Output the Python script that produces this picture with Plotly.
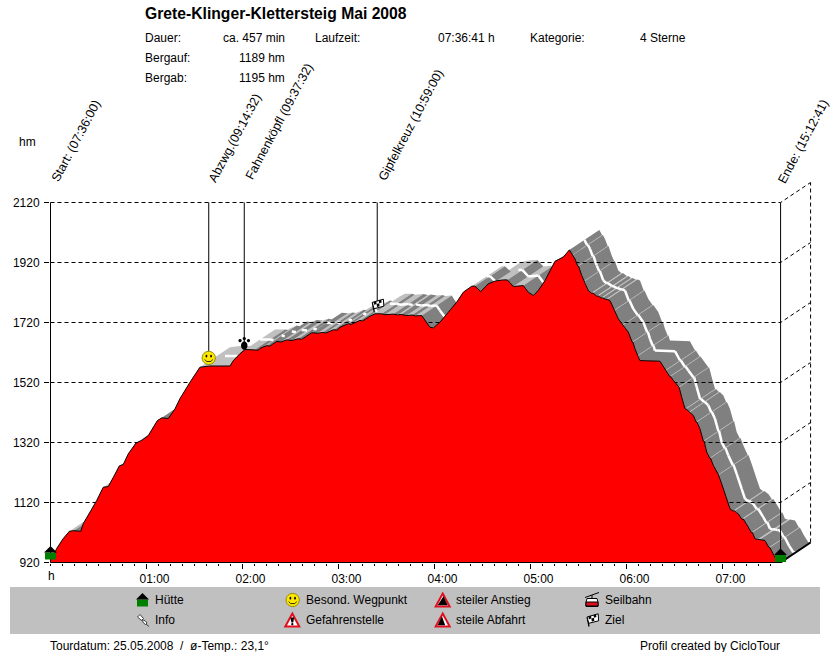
import numpy as np
import plotly.graph_objects as go

# ---------- data ----------
profile_min = [0, 1.4, 3.9, 8.0, 11.8, 14.7, 18.9, 20.5, 24.7, 28.9, 33.0, 36.1, 39.3, 43.0, 45.5, 48.6, 53.4, 57.0,
               61.1, 66.8, 69.5, 73.6, 77.8, 80.9, 87.2, 93.4, 99.7, 104, 112.2, 114.3, 118.4, 121.6, 127.8, 130,
               131, 135.1, 137, 141.4, 144, 147.6, 151, 154.9, 157, 160.1, 163.3, 167, 170, 172, 173.6, 177, 179,
               180.9, 186.1, 188, 193.4, 195, 199.7, 202.8, 207, 209, 214.3, 217, 219, 222.6, 226, 228, 232,
               234, 237.2, 239.3, 243.4, 248.6, 253.9, 258, 263.3, 265.3, 268.9, 273.6, 277.8, 283, 285.5, 289.3,
               295.5, 298.6, 301.8, 304.9, 309.1, 315.3, 320.5, 324.3, 326, 326.5, 327.8, 329.5, 330, 332, 333.5,
               334, 336.1, 338, 339, 341.4, 342.5, 344, 345, 347, 348, 349.7, 352, 352.5, 354.9, 357.5, 358, 361.1,
               363.5, 364, 365.3, 367, 367.5, 368.4, 380.9, 384.1, 384.6, 387, 387.5, 389.3, 392.4, 392.9, 394.5,
               396.6, 397.2, 399, 399.6, 401.8, 403.5, 404, 405.9, 408, 408.5, 410.1, 412, 412.5, 414.3, 417, 417.5,
               419.5, 422.6, 424.7, 426.5, 427.5, 428.8, 429.9, 432, 433, 436.1, 438, 438.7, 440.3, 442, 443.5, 445,
               446.6, 449, 449.6, 452.2, 454.9, 456.3]
profile_hm = [933, 938, 967, 1000, 1024, 1026, 1024, 1050, 1088, 1127, 1171, 1173, 1204, 1242, 1247, 1282, 1318, 1327,
              1343, 1393, 1402, 1400, 1432, 1466, 1521, 1571, 1575, 1575, 1575, 1593, 1616, 1630, 1630, 1628,
              1634, 1643, 1641, 1657, 1655, 1662, 1660, 1666, 1664, 1674, 1686, 1684, 1687, 1685, 1688, 1696, 1694,
              1704, 1716, 1714, 1727, 1725, 1741, 1749, 1749, 1746, 1748, 1745, 1747, 1743, 1745, 1742, 1743,
              1727, 1704, 1702, 1721, 1754, 1788, 1821, 1841, 1841, 1823, 1849, 1858, 1862, 1862, 1840,
              1843, 1821, 1810, 1827, 1860, 1924, 1938, 1962, 1945, 1945, 1932, 1908, 1908, 1877, 1858,
              1858, 1827, 1818, 1818, 1808, 1808, 1802, 1802, 1797, 1797, 1793, 1760, 1760, 1732, 1712, 1712, 1688,
              1655, 1655, 1632, 1610, 1610, 1593, 1591, 1560, 1560, 1540, 1540, 1527, 1504, 1504, 1471,
              1432, 1432, 1422, 1422, 1410, 1388, 1388, 1366, 1325, 1325, 1288, 1268, 1268, 1243, 1212, 1212,
              1182, 1132, 1099, 1092, 1092, 1086, 1082, 1065, 1065, 1038, 1020, 1020, 999, 997, 997, 995,
              993, 970, 970, 943, 921, 920]

wp_names = ["Start: (07:36:00)", "Abzwg.(09:14:32)", "Fahnenköpfl (09:37:32)", "Gipfelkreuz (10:59:00)", "Ende: (15:12:41)"]
wp_min = [0, 98.9, 121.1, 204.2, 456.3]
wp_hm = [920, 1602, 1653, 1777, 920]

y_ticks = [920, 1120, 1320, 1520, 1720, 1920, 2120]
x_tick_min = [0, 60, 120, 180, 240, 300, 360, 420]
x_tick_labels = ["", "01:00", "02:00", "03:00", "04:00", "05:00", "06:00", "07:00"]

legend_col = [["Hütte", "Info"], ["Besond. Wegpunkt", "Gefahrenstelle"], ["steiler Anstieg", "steile Abfahrt"], ["Seilbahn", "Ziel"]]

# ---------- geometry ----------
W, H = 830, 652
L, T, PW, PH = 50, 182, 762, 381
KX, KY = 1.6, 0.3            # px per minute, px per hm
X0 = -0.5 / KX
XMAX = X0 + PW / KX
YMIN = 920 - 0.5 / KY
YMAX = YMIN + PH / KY
DX, DY = 30 / KX, 20 / KY    # depth of the extrusion
END = profile_min[-1]
TOP = 2120


def X(p):
    return (p - L) / PW


def Y(p):
    return (T + PH - p) / PH


FONT = "Liberation Sans, Arial, sans-serif"
annots = []


def text(x, y, s, anchor="left", size=12, bold=False, angle=0):
    annots.append(dict(xref="paper", yref="paper", x=X(x), y=Y(y), text=f"<b>{s}</b>" if bold else s, showarrow=False,
                       xanchor=anchor, yanchor="middle", textangle=angle, align=anchor,
                       font=dict(family=FONT, size=size, color="black"), borderpad=0, borderwidth=0))


shapes = []


def poly(pts, fill=None, line=None, lw=1, close=True):
    d = "M" + " L".join(f"{a:.2f} {-b:.2f}" for a, b in pts) + (" Z" if close else "")
    return dict(path=d, fill=fill, line=line, lw=lw)


def circle(cx, cy, rx, ry=None, fill=None, line=None, lw=1):
    ry = rx if ry is None else ry
    a = np.linspace(0, 2 * np.pi, 24, endpoint=False)
    return poly(list(zip(cx + rx * np.cos(a), cy + ry * np.sin(a))), fill, line, lw)


def place(parts, x, y, xref="paper", yref="paper"):
    for p in parts:
        shapes.append(dict(type="path", xref=xref, yref=yref, xsizemode="pixel", ysizemode="pixel", xanchor=x, yanchor=y,
                           path=p["path"], fillcolor=p["fill"] or "rgba(0,0,0,0)",
                           line=dict(color=p["line"] or "rgba(0,0,0,0)", width=p["lw"] if p["line"] else 0), layer="above"))


SMILEY = [circle(0, 0, 6.6, fill="#ffe800", line="#8f8a10", lw=1),
          circle(-2.3, -1.8, 0.9, 1.4, fill="black"), circle(2.3, -1.8, 0.9, 1.4, fill="black"),
          poly([(-4, 1.5), (-2.2, 3.6), (2.2, 3.6), (4, 1.5)], None, "#303000", 1, close=False)]
HUT = [poly([(-5.5, 6.5), (-5.5, 13.5), (5.5, 13.5), (5.5, 6.5)], "#008000"),
       poly([(0, 0), (6.5, 6.5), (-6.5, 6.5)], "black")]
PAW = [circle(0, 3, 3.2, 4.2, fill="black"), circle(-4.2, -2, 1.6, fill="black"), circle(0, -4, 1.6, fill="black"),
       circle(4.2, -2, 1.6, fill="black")]
FLAG = [poly([(-3, 6.5), (-4.8, -2.5)], None, "black", 1.3, close=False),
        poly([(-5, -3), (6.2, -6.2), (6.6, 0.8), (-3.2, 3.3)], "white", "black", 1),
        poly([(-3.6, -3.4), (-1, -4.2), (-0.6, -1.4), (-3.1, -0.7)], "black"),
        poly([(1.5, -5), (4, -5.6), (4.4, -3), (2, -2.2)], "black"),
        poly([(-0.6, -1.4), (2, -2.2), (2.3, 0.9), (-0.2, 1.6)], "black")]
WARN = [poly([(0, -6.5), (7, 6.5), (-7, 6.5)], "white", "#e01020", 2),
        poly([(-1.9, -2.5), (1.9, -2.5), (0.9, 2.5), (-0.9, 2.5)], "black"),
        circle(0, 4.1, 1.1, fill="black")]
UP = [poly([(0, -6.5), (7, 6.5), (-7, 6.5)], "white", "#e01020", 2),
      poly([(-5, 5.3), (0.8, -3.8), (5, 5.3)], "black")]
DOWN = [poly([(0, -6.5), (7, 6.5), (-7, 6.5)], "white", "#e01020", 2),
        poly([(-5, 5.3), (-0.8, -3.8), (2.5, 5.3)], "black")]
CABLE = [poly([(-7, -2.5), (7, -7.5)], None, "black", 1, close=False),
         poly([(0, -5), (0, -1.5)], None, "black", 1, close=False),
         poly([(-5, -1.5), (5, -1.5), (6, 2), (6, 6.5), (-6, 6.5), (-6, 2)], "white", "black", 1),
         poly([(-6, 2), (6, 2), (6, 6), (-6, 6)], "#e01020", "black", 1)]
PIN = [poly([(-5.5, -3), (-3, -5.5), (0.5, -1.5), (-1.5, 0.5)], "white", "#404040", 1),
       poly([(-1, -0.5), (2.5, 1), (4, 3), (2.5, 4.5), (0.5, 3), (-1, 0)], "white", "#404040", 1),
       poly([(3, 4), (6, 6.5)], None, "#404040", 1, close=False)]

# ---------- extruded band, drawn from the profile through the axes ----------
lx, ly, dx, dy, wx, wy = [], [], [], [], [], []
for i in range(len(profile_min) - 1):
    t0, t1, h0, h1 = profile_min[i], profile_min[i + 1], profile_hm[i], profile_hm[i + 1]
    qx = [t0, t1, t1 + DX, t0 + DX]
    qy = [h0, h1, h1 + DY, h0 + DY]
    # one winding for every quad, so overlapping quads of a trace do not cancel out
    if (t1 - t0) * KX * DY * KY - (h1 - h0) * KY * DX * KX < 0:
        qx, qy = qx[::-1], qy[::-1]
    qx = qx + [qx[0], None]
    qy = qy + [qy[0], None]
    if h1 < h0:
        dx += qx
        dy += qy
    else:
        lx += qx
        ly += qy
    slope = (h1 - h0) / (t1 - t0)
    if slope < 0.6:
        wx += [t0 + DX / 2, t1 + DX / 2, None]
        wy += [h0 + DY / 2, h1 + DY / 2, None]

fig = go.Figure()


def band(x, y, col):
    fig.add_trace(go.Scatter(x=x, y=y, mode="lines", fill="toself", fillcolor=col, line=dict(width=0, color=col),
                             hoverinfo="skip", showlegend=False, cliponaxis=False))


band(lx, ly, "#c0c0c0")
band(dx, dy, "#808080")
fig.add_trace(go.Scatter(x=wx, y=wy, mode="lines", line=dict(color="white", width=2.5), hoverinfo="skip", showlegend=False))

# grid and back wall
gx, gy = [], []
for h in y_ticks[1:]:
    gx += [0, END, END + DX, None]
    gy += [h, h, h + DY, None]
gx += [END + DX, END + DX]
gy += [920 + DY, TOP + DY]
fig.add_trace(go.Scatter(x=gx, y=gy, mode="lines", line=dict(color="black", width=1, dash="4px,3px"), hoverinfo="skip",
                         showlegend=False, cliponaxis=False))

# profile
fig.add_trace(go.Scatter(x=profile_min, y=profile_hm, mode="lines", fill="tozeroy", fillcolor="#ff0000",
                         line=dict(color="black", width=1), hoverinfo="skip", showlegend=False))

# axes frame
fig.add_trace(go.Scatter(x=[0, END], y=[920, 920], mode="lines", line=dict(color="black", width=1), hoverinfo="skip",
                         showlegend=False, cliponaxis=False))
fig.add_trace(go.Scatter(x=[END, END + DX], y=[920, 920 + DY], mode="lines", line=dict(color="black", width=2),
                         hoverinfo="skip", showlegend=False, cliponaxis=False))

# waypoint verticals
vx, vy = [], []
for t, h in zip(wp_min, wp_hm):
    vx += [t, t, None]
    vy += [TOP, h, None]
fig.add_trace(go.Scatter(x=vx, y=vy, mode="lines", line=dict(color="black", width=1), hoverinfo="skip", showlegend=False,
                         cliponaxis=False))

# ---------- markers ----------
place(SMILEY, wp_min[1], wp_hm[1], "x", "y")
place(PAW, wp_min[2], wp_hm[2], "x", "y")
place(FLAG, wp_min[3], wp_hm[3], "x", "y")
place(HUT, X(50.5), Y(546))
place(HUT, X(780.5), Y(548.5))

# ---------- text ----------
text(145, 13, "Grete-Klinger-Klettersteig Mai 2008", size=15.7, bold=True)
text(145, 38, "Dauer:")
text(285, 38, "ca. 457 min", "right")
text(315, 38, "Laufzeit:")
text(495, 38, "07:36:41 h", "right")
text(530, 38, "Kategorie:")
text(640, 38, "4 Sterne")
text(145, 58, "Bergauf:")
text(285, 58, "1189 hm", "right")
text(145, 78, "Bergab:")
text(285, 78, "1195 hm", "right")
text(27, 142, "hm", "center")
text(51, 576, "h", "center")

for name, c in zip(wp_names, [(76, 141), (235, 138), (279, 122), (411, 125), (803, 142)]):
    text(c[0], c[1], name, "center", size=12.5, angle=-62)

# ---------- legend ----------
shapes.insert(0, dict(type="rect", xref="paper", yref="paper", x0=X(10), x1=X(820), y0=Y(634), y1=Y(587),
                      fillcolor="#c0c0c0", line=dict(width=0), layer="below"))
col_text_x = [155, 305.5, 455.5, 605]
rows_y = [600, 620]
for cx, names in zip(col_text_x, legend_col):
    for ry, nm in zip(rows_y, names):
        text(cx, ry, nm)
place(HUT, X(142.5), Y(593))
place(PIN, X(143), Y(620))
place(SMILEY, X(292.7), Y(600))
place(WARN, X(292.3), Y(620))
place(UP, X(442.7), Y(600))
place(DOWN, X(442.7), Y(620))
place(CABLE, X(592), Y(600))
place(FLAG, X(592), Y(620))

text(50, 646, "Tourdatum: 25.05.2008  /  ø-Temp.: 23,1°")
text(780, 646, "Profil created by CicloTour", "right")

fig.update_layout(
    width=W, height=H, margin=dict(l=L, r=W - L - PW, t=T, b=H - T - PH, pad=0, autoexpand=False),
    paper_bgcolor="white", plot_bgcolor="white", showlegend=False,
    font=dict(family=FONT, size=12, color="black"), annotations=annots, shapes=shapes,
    xaxis=dict(range=[X0, XMAX], showgrid=False, zeroline=False, showline=False, tickmode="array", tickvals=x_tick_min,
               ticktext=x_tick_labels, ticks="outside", ticklen=5, tickwidth=1, tickcolor="black", ticklabelshift=8,
               ticklabelstandoff=0, tickfont=dict(size=12, family=FONT),
               minor=dict(tickmode="array", tickvals=list(np.arange(0, 457, 7.5)), ticks="outside", ticklen=2,
                          tickwidth=1, tickcolor="black", showgrid=False)),
    yaxis=dict(range=[YMIN, YMAX], showgrid=False, zeroline=False, showline=False, tickmode="array", tickvals=y_ticks,
               ticks="outside", ticklen=5, tickwidth=1, tickcolor="black", ticklabelstandoff=2,
               tickfont=dict(size=12, family=FONT)),
)

fig.write_html("out.html", config=dict(displayModeBar=False),
               post_script="document.body.style.margin='0';document.documentElement.style.overflow='hidden';")
